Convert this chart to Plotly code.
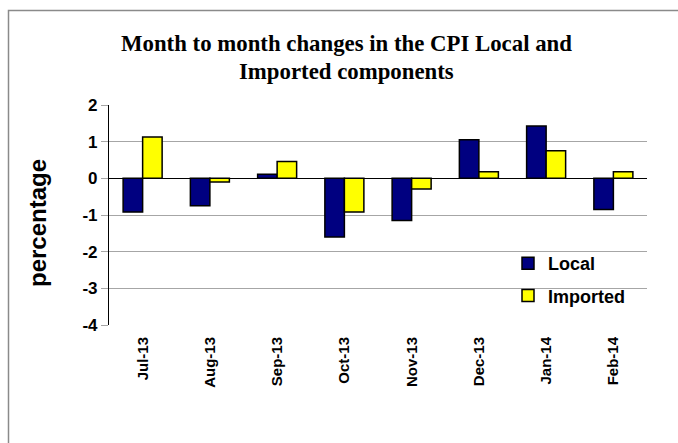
import plotly.graph_objects as go

# Monthly CPI changes (%) by component
months = ["Jul-13", "Aug-13", "Sep-13", "Oct-13", "Nov-13", "Dec-13", "Jan-14", "Feb-14"]
local = [-0.92, -0.75, 0.11, -1.60, -1.15, 1.05, 1.43, -0.85]
imported = [1.13, -0.10, 0.46, -0.92, -0.29, 0.18, 0.75, 0.18]
y_ticks = [2, 1, 0, -1, -2, -3, -4]
title_lines = ["Month to month changes in the CPI Local and", "Imported components"]

W, H = 678, 443
ML, MR, MT, MB = 109, 31, 105, 118
PW, PH = W - ML - MR, H - MT - MB


def px_x(px):
    return (px - ML) / PW


def px_y(py):
    return (H - MB - py) / PH


fig = go.Figure()
fig.add_trace(go.Bar(
    x=months, y=local, name="Local", legendgroup="a",
    marker=dict(color="#000080", line=dict(color="#000000", width=1.5)),
))
fig.add_trace(go.Bar(
    x=months, y=imported, name="Imported", legendgroup="b",
    marker=dict(color="#FFFF00", line=dict(color="#000000", width=1.5)),
))

# outer chart frame
fig.add_shape(type="rect", xref="paper", yref="paper",
              x0=px_x(8.5), x1=px_x(690), y0=px_y(460), y1=px_y(10.5),
              line=dict(color="#8a8a8a", width=1.5), layer="below")

# two-line chart title
for line, cy in zip(title_lines, [44, 71]):
    fig.add_annotation(
        text=f"<b>{line}</b>", showarrow=False,
        xref="paper", yref="paper", x=px_x(346), y=px_y(cy),
        xanchor="center", yanchor="middle",
        font=dict(family="Liberation Serif", size=22.8, color="#000000"),
    )

fig.add_annotation(
    text="percentage", textangle=-90, showarrow=False,
    xref="paper", yref="paper", x=px_x(37), y=px_y(223),
    xanchor="center", yanchor="middle",
    font=dict(family="Liberation Sans", size=24, color="#000000", weight="bold"),
)

fig.update_layout(
    width=W, height=H,
    margin=dict(l=ML, r=MR, t=MT, b=MB, autoexpand=False),
    paper_bgcolor="#ffffff", plot_bgcolor="#ffffff",
    barmode="group", bargap=0.42, bargroupgap=0,
    legend=dict(
        x=px_x(508), y=px_y(245), xanchor="left", yanchor="top",
        font=dict(family="Liberation Sans", size=18, color="#000000", weight="bold"),
        bgcolor="rgba(0,0,0,0)", traceorder="grouped", tracegroupgap=6,
        itemwidth=30,
    ),
    showlegend=True,
)

fig.update_xaxes(
    tickangle=-90, showgrid=False, showline=False, ticks="",
    tickfont=dict(family="Liberation Sans", size=15, color="#000000", weight="bold"),
    ticklabelstandoff=8,
)
fig.update_yaxes(
    range=[-4, 2], tickvals=y_ticks, ticktext=[str(v) for v in y_ticks],
    showgrid=True, gridcolor="#a6a6a6", gridwidth=1,
    zeroline=True, zerolinecolor="#000000", zerolinewidth=1.2,
    showline=True, linecolor="#000000", linewidth=1.2,
    ticks="outside", ticklen=7, tickcolor="#a6a6a6",
    tickfont=dict(family="Liberation Sans", size=17, color="#000000", weight="bold"),
)

fig.write_html("out.html")
